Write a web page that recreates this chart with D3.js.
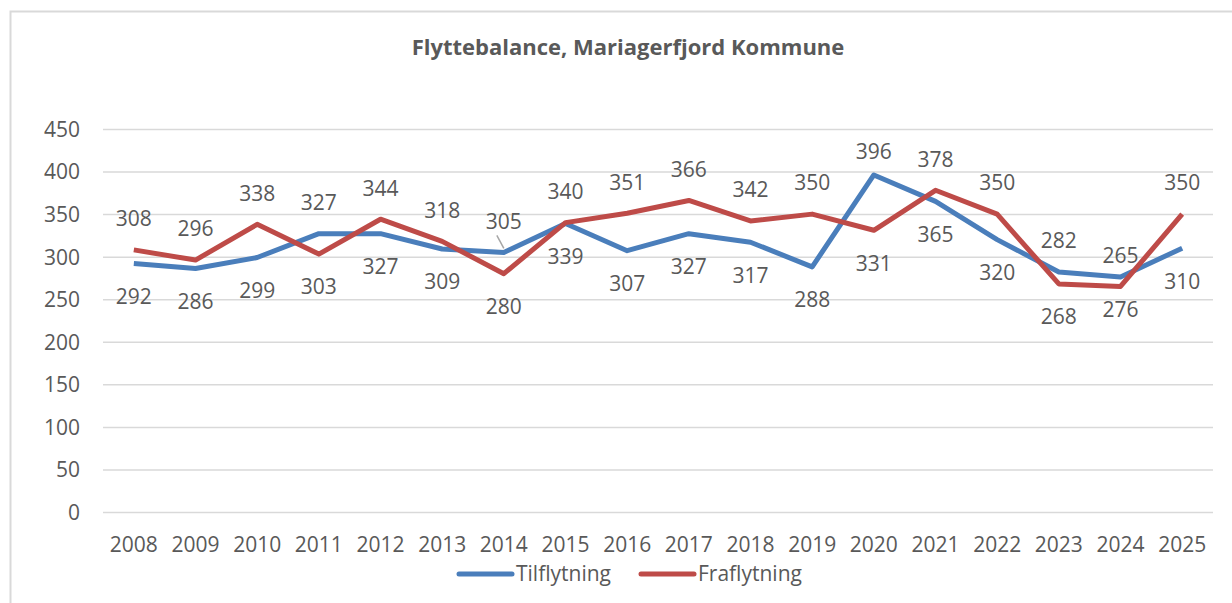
<!DOCTYPE html>
<html lang="da">
<head>
<meta charset="UTF-8">
<title>Flyttebalance</title>
<script src="https://cdn.jsdelivr.net/npm/d3@7/dist/d3.min.js"></script>
<style>
  body { margin: 0; background: #fff; }
  text { font-family: "Open Sans", sans-serif; fill: #595959; }
</style>
</head>
<body>
<svg id="chart" width="1232" height="603"></svg>
<script>
const years = ["2008","2009","2010","2011","2012","2013","2014","2015","2016","2017","2018","2019","2020","2021","2022","2023","2024","2025"];
const tilflytning = [292, 286, 299, 327, 327, 309, 305, 339, 307, 327, 317, 288, 396, 365, 320, 282, 276, 310];
const fraflytning = [308, 296, 338, 303, 344, 318, 280, 340, 351, 366, 342, 350, 331, 378, 350, 268, 265, 350];
const yTicks = [0, 50, 100, 150, 200, 250, 300, 350, 400, 450];

// label placement (1 = above the point, -1 = below), as in the original
const tilPos = [-1,-1,-1, 1,-1,-1, 1,-1,-1,-1,-1,-1, 1,-1,-1, 1,-1,-1];
const fraPos = [ 1, 1, 1,-1, 1, 1,-1, 1, 1, 1, 1, 1,-1, 1, 1,-1, 1, 1];

const series = [
  { name: "Tilflytning", values: tilflytning, pos: tilPos, color: "#4a7ebb" },
  { name: "Fraflytning", values: fraflytning, pos: fraPos, color: "#be4b48" }
];

const svg = d3.select('#chart');
const margin = { top: 129, right: 19, bottom: 91, left: 103 };
const width = +svg.attr('width');
const height = +svg.attr('height');

// chart frame
svg.append('rect')
  .attr('x', 10.5).attr('y', 11.5)
  .attr('width', 1300).attr('height', 700)
  .attr('fill', 'none').attr('stroke', '#d9d9d9').attr('stroke-width', 2);

const x = d3.scaleBand().domain(years).range([margin.left, width - margin.right]);
const y = d3.scaleLinear().domain([0, 450]).range([height - margin.bottom, margin.top]);

// gridlines + y labels
const yAxis = svg.append('g')
  .attr('transform', `translate(${margin.left},0)`)
  .call(d3.axisLeft(y).tickValues(yTicks).tickSize(-(width - margin.left - margin.right)).tickPadding(23))
  .call(g => g.select('.domain').remove());
yAxis.selectAll('.tick line').attr('stroke', '#d9d9d9').attr('stroke-width', 1.5);
yAxis.selectAll('.tick text').attr('font-size', 21).attr('fill', '#595959').attr('dy', '0.35em');

// x labels
const xAxis = svg.append('g')
  .attr('transform', `translate(0,${height - margin.bottom})`)
  .call(d3.axisBottom(x).tickSize(0).tickPadding(25))
  .call(g => g.select('.domain').remove());
xAxis.selectAll('.tick text').attr('font-size', 21).attr('fill', '#595959');

// title
svg.append('text')
  .attr('x', 628).attr('y', 55)
  .attr('text-anchor', 'middle')
  .attr('font-size', 22).attr('font-weight', 'bold')
  .text('Flyttebalance, Mariagerfjord Kommune');

const line = d3.line()
  .x((d, i) => x(years[i]) + x.bandwidth() / 2)
  .y(d => y(d));

svg.selectAll('.series').data(series).join('path')
  .attr('class', 'series')
  .attr('d', d => line(d.values))
  .attr('fill', 'none')
  .attr('stroke', d => d.color)
  .attr('stroke-width', 5)
  .attr('stroke-linejoin', 'round');

// data labels
series.forEach(s => {
  svg.append('g').selectAll('text').data(s.values).join('text')
    .attr('x', (d, i) => x(years[i]) + x.bandwidth() / 2)
    .attr('y', (d, i) => Math.max(152, y(d) + (s.pos[i] > 0 ? -31 : 33)))
    .attr('dy', '0.35em')
    .attr('text-anchor', 'middle')
    .attr('font-size', 21)
    .text(d => d);
});

// small leader line for 2014 Tilflytning label
const lx = x('2014') + x.bandwidth() / 2;
svg.append('line')
  .attr('x1', lx - 7).attr('y1', y(305) - 17)
  .attr('x2', lx).attr('y2', y(305) - 4)
  .attr('stroke', '#a6a6a6').attr('stroke-width', 1.5);

// legend
const legend = svg.append('g').attr('transform', 'translate(0,574)');
const legendX = [459, 641];
series.forEach((s, i) => {
  legend.append('line')
    .attr('x1', legendX[i]).attr('x2', legendX[i] + 53)
    .attr('stroke', s.color).attr('stroke-width', 5).attr('stroke-linecap', 'round');
  legend.append('text')
    .attr('x', legendX[i] + 57).attr('dy', '0.35em')
    .attr('font-size', 21)
    .text(s.name);
});
</script>
</body>
</html>
